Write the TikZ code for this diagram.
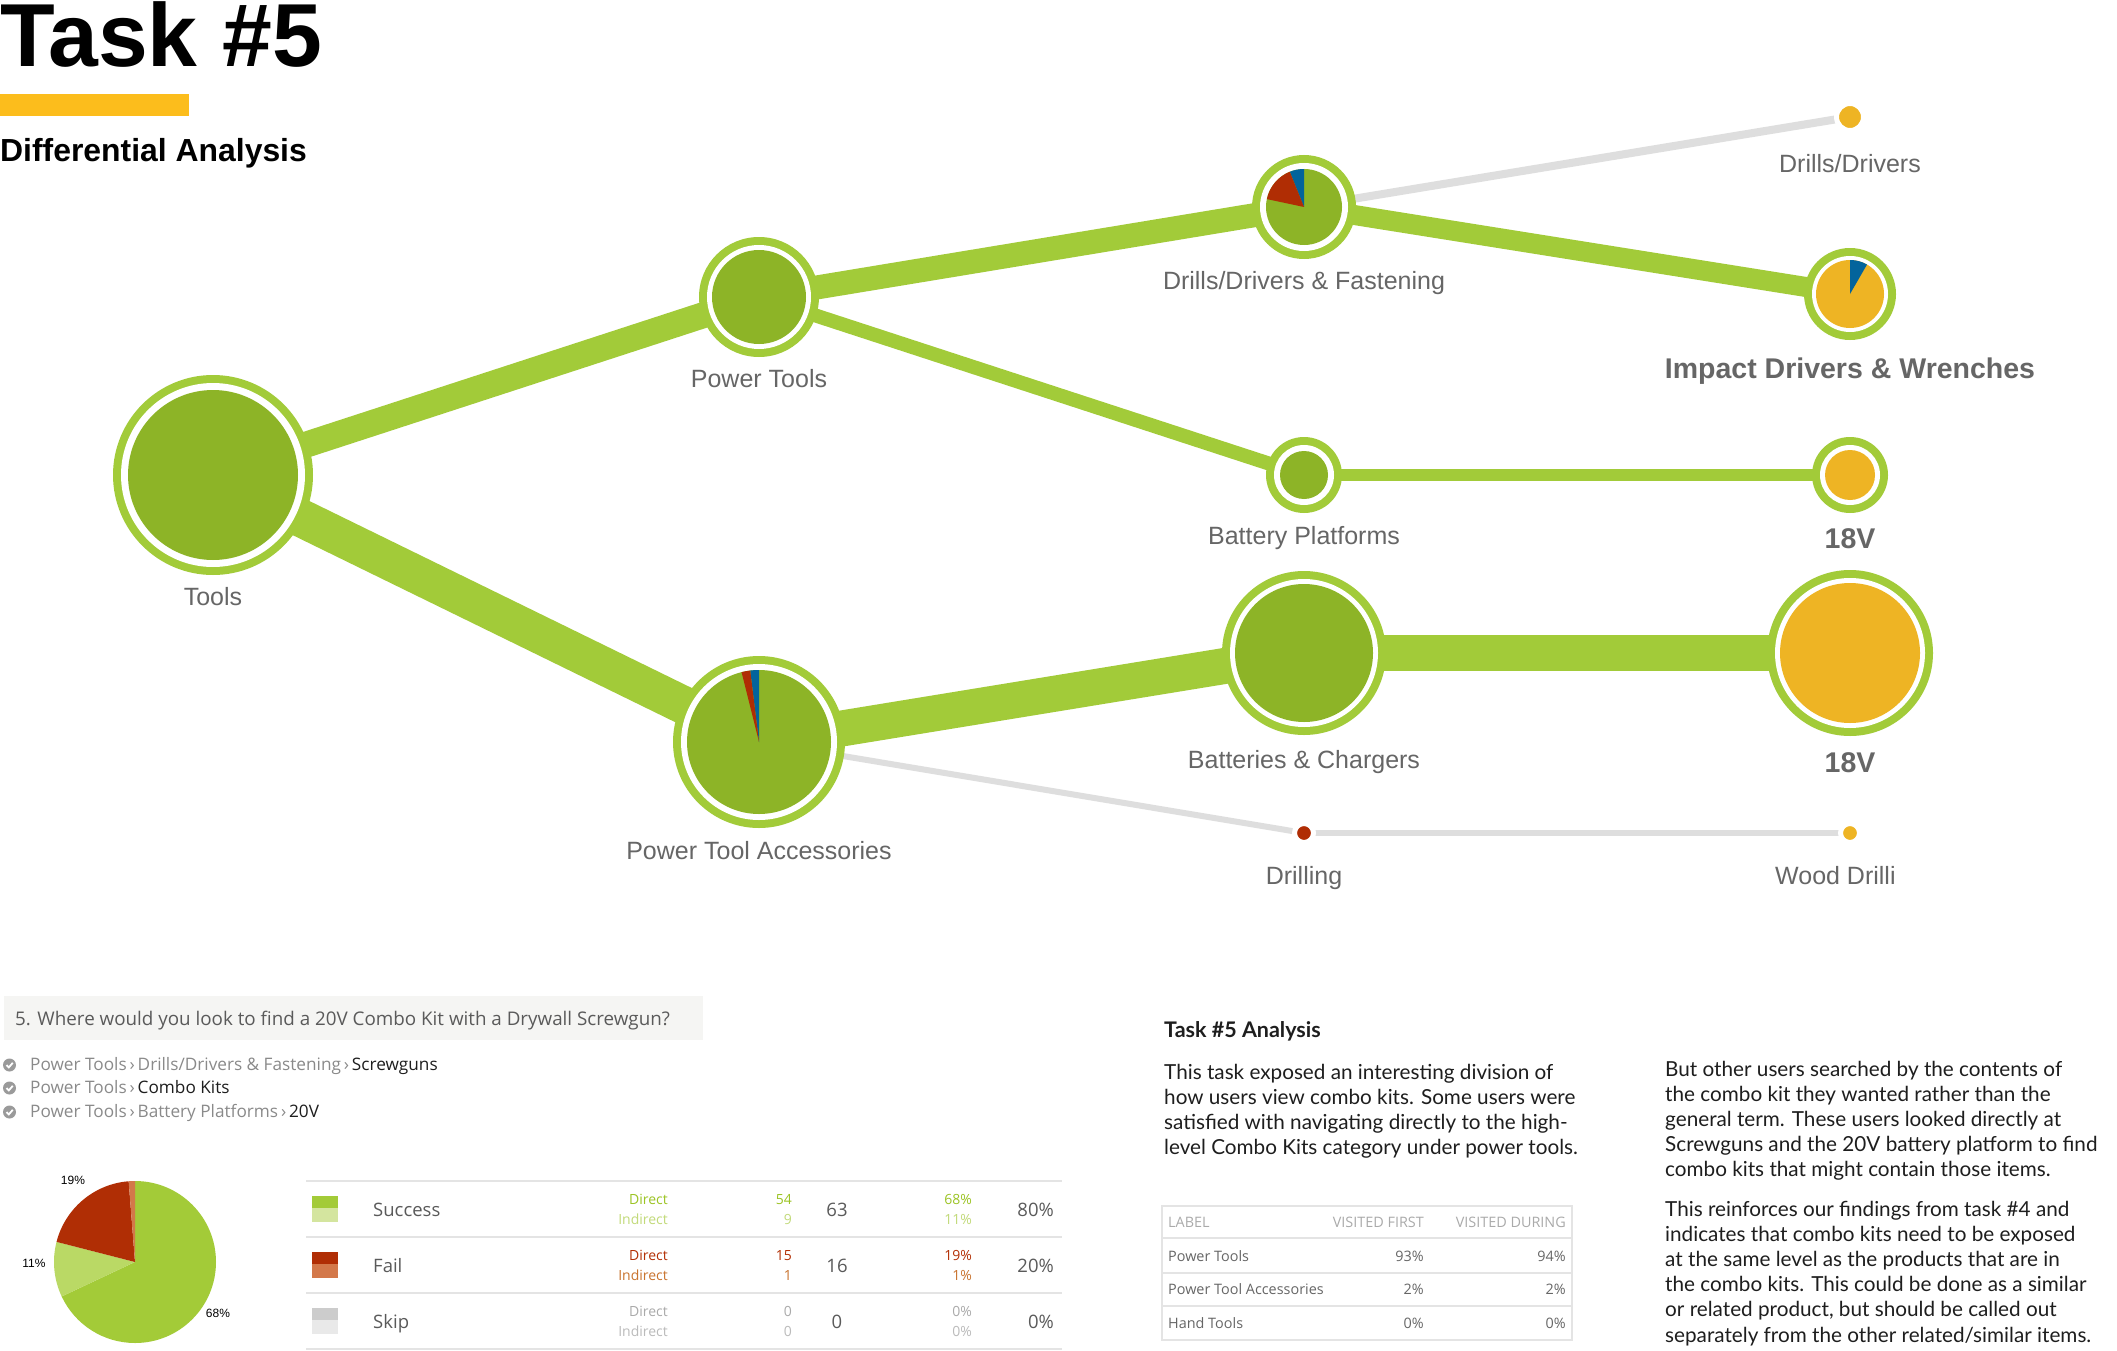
\documentclass[tikz,border=0pt]{standalone}
\usepackage{fontspec}
\setmainfont{Liberation Sans}
\newfontfamily\osans{Open Sans}
\newfontfamily\lato{Lato}
\usetikzlibrary{backgrounds}

\definecolor{ringgreen}{HTML}{A2CB39}
\definecolor{innergreen}{HTML}{8DB427}
\definecolor{pieorange}{HTML}{EEB424}
\definecolor{piered}{HTML}{B02D04}
\definecolor{pieblue}{HTML}{03649C}
\definecolor{edgegray}{HTML}{DEDEDE}
\definecolor{labelgray}{HTML}{666666}
\definecolor{barorange}{HTML}{FCBD1C}
\definecolor{qbox}{HTML}{F5F5F3}
\definecolor{qgray}{HTML}{5A5A5A}
\definecolor{trailgray}{HTML}{8A8A8A}
\definecolor{icongray}{HTML}{9A9A9A}
\definecolor{rulegray}{HTML}{E4E4E4}
\definecolor{okdark}{HTML}{A3CB38}
\definecolor{oklight}{HTML}{D4E59F}
\definecolor{okpie}{HTML}{BAD965}
\definecolor{oktext}{HTML}{9CC424}
\definecolor{okitext}{HTML}{C2DA7A}
\definecolor{faildark}{HTML}{B02E05}
\definecolor{faillight}{HTML}{D3784A}
\definecolor{failtext}{HTML}{B33005}
\definecolor{failitext}{HTML}{C9742F}
\definecolor{skipdark}{HTML}{CCCCCC}
\definecolor{skiplight}{HTML}{E9E9E9}
\definecolor{skiptext}{HTML}{AAAAAA}
\definecolor{skipitext}{HTML}{BBBBBB}
\definecolor{bodytext}{HTML}{1E1E1E}

\tikzset{
  hub/.style n args={3}{circle, inner sep=0pt, minimum size=2*#1pt, fill=ringgreen,
    path picture={
      \fill[white] (path picture bounding box.center) circle[radius=#1pt-8pt];
      \fill[#3] (path picture bounding box.center) circle[radius=#2pt];
    }},
  leaf/.style={circle, inner sep=0pt, draw=white, line width=5pt},
  band/.style={draw=ringgreen, line width=#1},
  thread/.style={draw=edgegray, line width=#1},
  lbl/.style={anchor=base, inner sep=0pt, text=labelgray, font=\fontsize{25}{29}\selectfont},
  biglbl/.style={lbl, font=\bfseries\fontsize{28.5}{32}\selectfont},
  body/.style={anchor=base west, inner sep=0pt, text=bodytext, font=\lato\fontsize{20.7}{25}\selectfont},
  cell/.style={inner sep=0pt, font=\osans\fontsize{14.4}{17}\selectfont},
  small/.style={anchor=base east, inner sep=0pt, font=\osans\fontsize{14}{16}\selectfont},
  big/.style={inner sep=0pt, text=qgray, font=\osans\fontsize{18.5}{21}\selectfont},
}

\begin{document}
\begin{tikzpicture}[x=1pt, y=1pt]
\useasboundingbox (0,0) rectangle (2117,-1351);

% header
\fill[barorange] (0,-94) rectangle (189,-116);
\node[anchor=base west, inner sep=0pt, font=\bfseries\fontsize{89.5}{92}\selectfont] (title) at (0,-67) {Task \#5};
\node[anchor=base west, inner sep=0pt, font=\bfseries\fontsize{31.9}{34}\selectfont] (subtitle) at (0,-162) {Differential Analysis};

% tree
\node[hub={100}{85}{innergreen}] (tools) at (213,-475) {};
\node[hub={60}{47}{innergreen}] (pt) at (759,-297) {};
\node[hub={52}{38}{innergreen}] (ddf) at (1304,-207) {};
\node[hub={38}{24}{innergreen}] (bp) at (1304,-475) {};
\node[hub={86}{72}{innergreen}] (pta) at (759,-742) {};
\node[hub={82}{69}{innergreen}] (bc) at (1304,-653) {};
\node[hub={46}{34}{pieorange}] (idw) at (1850,-294) {};
\node[hub={38}{25}{pieorange}] (v18a) at (1850,-475) {};
\node[hub={83}{70}{pieorange}] (v18b) at (1850,-653) {};
\node[leaf, fill=pieorange, minimum size=27pt] (dd) at (1850,-117) {};
\node[leaf, fill=piered, minimum size=19pt] (drl) at (1304,-833) {};
\node[leaf, fill=pieorange, minimum size=19pt] (wood) at (1850,-833) {};

\begin{scope}[on background layer]
  \fill[white] (0,0) rectangle (2117,-1351);
  \draw[band=26pt] (tools.center) -- (pt.center);
  \draw[band=38pt] (tools.center) -- (pta.center);
  \draw[band=24pt] (pt.center) -- (ddf.center);
  \draw[band=14pt] (pt.center) -- (bp.center);
  \draw[thread=8pt] (ddf.center) -- (dd.center);
  \draw[band=20pt] (ddf.center) -- (idw.center);
  \draw[band=12pt] (bp.center) -- (v18a.center);
  \draw[band=36pt] (pta.center) -- (bc.center);
  \draw[band=36pt] (bc.center) -- (v18b.center);
  \draw[thread=6pt] (pta.center) -- (drl.center);
  \draw[thread=6pt] (drl.center) -- (wood.center);
\end{scope}

% pie slices
\foreach \hubname/\rad/\from/\to/\col in {ddf/38/90/112/pieblue, ddf/38/112/168/piered,
    pta/72/90/97/pieblue, pta/72/97/104/piered, idw/34/60/90/pieblue}{
  \fill[\col] (\hubname.center) -- ++(\from:\rad) arc[start angle=\from, end angle=\to, radius=\rad] -- cycle;
}

\node[lbl] (tools-l) at (213,-605) {Tools};
\node[lbl] (pt-l) at (759,-387) {Power Tools};
\node[lbl] (ddf-l) at (1304,-289) {Drills/Drivers \& Fastening};
\node[lbl] (dd-l) at (1850,-173) {Drills/Drivers};
\node[biglbl] (idw-l) at (1850,-378) {Impact Drivers \& Wrenches};
\node[lbl] (bp-l) at (1304,-544) {Battery Platforms};
\node[biglbl] (v18a-l) at (1850,-548) {18V};
\node[lbl] (bc-l) at (1304,-768) {Batteries \& Chargers};
\node[biglbl] (v18b-l) at (1850,-772) {18V};
\node[lbl] (pta-l) at (759,-859) {Power Tool Accessories};
\node[lbl] (drl-l) at (1304,-884) {Drilling};
\node[lbl, anchor=base west] (wood-l) at (1775,-884) {Wood Drilli};

% question and trails
\fill[qbox] (4,-996) rectangle (703,-1040);
\node[anchor=base west, inner sep=0pt, text=qgray, font=\osans\fontsize{18.8}{22}\selectfont] (question) at (15,-1025)
  {5. Where would you look to find a 20V Combo Kit with a Drywall Screwgun?};
\foreach \yy/\trail/\goal [count=\i] in {1070/{Power Tools\,›\,Drills/Drivers \& Fastening\,›\,}/Screwguns,
    1093/{Power Tools\,›\,}/Combo Kits, 1117/{Power Tools\,›\,Battery Platforms\,›\,}/20V}{
  \fill[icongray] (9.5,-\yy+5) circle[radius=6.5];
  \draw[white, line width=1.8pt] (6.5,-\yy+5) -- (8.8,-\yy+2.6) -- (12.8,-\yy+7.2);
  \node[anchor=base west, inner sep=0pt, font=\osans\fontsize{17.2}{20}\selectfont] (trail\i) at (30,-\yy)
    {\textcolor{trailgray}{\trail}\textcolor{bodytext}{\goal}};
}

% result pie
\coordinate (res) at (135,-1262);
\fill[okdark] (res) -- ++(90:81) arc[start angle=90, end angle=-154.8, radius=81] -- cycle;
\fill[okpie] (res) -- ++(-154.8:81) arc[start angle=-154.8, end angle=-194.4, radius=81] -- cycle;
\fill[faildark] (res) -- ++(-194.4:81) arc[start angle=-194.4, end angle=-265.5, radius=81] -- cycle;
\fill[faillight] (res) -- ++(-265.5:81) arc[start angle=-265.5, end angle=-270, radius=81] -- cycle;
\node[inner sep=0pt, font=\fontsize{12}{14}\selectfont] (p19) at (73,-1180) {19\%};
\node[inner sep=0pt, font=\fontsize{12}{14}\selectfont] (p11) at (34,-1263) {11\%};
\node[inner sep=0pt, font=\fontsize{12}{14}\selectfont] (p68) at (218,-1313) {68\%};

% result table
\foreach \yy in {1181,1237,1293,1349}{
  \draw[rulegray, line width=2.5pt] (306,-\yy) -- (1062,-\yy);
}
\foreach \rname/\swA/\swB/\colA/\colB/\nA/\nB/\nT/\pA/\pB/\pT [count=\r from 0] in
  {Success/okdark/oklight/oktext/okitext/54/9/63/68\%/11\%/80\%,
   Fail/faildark/faillight/failtext/failitext/15/1/16/19\%/1\%/20\%,
   Skip/skipdark/skiplight/skiptext/skipitext/0/0/0/0\%/0\%/0\%}{
  \fill[\swA] (312,{-1196-56*\r}) rectangle (338,{-1208-56*\r});
  \fill[\swB] (312,{-1208-56*\r}) rectangle (338,{-1222-56*\r});
  \node[big, anchor=base west] (row\r) at (373,{-1216-56*\r}) {\rname};
  \node[small, text=\colA] (dir\r) at (668,{-1204-56*\r}) {Direct};
  \node[small, text=\colB] (ind\r) at (668,{-1224-56*\r}) {Indirect};
  \node[small, text=\colA] (ndir\r) at (792,{-1204-56*\r}) {\nA};
  \node[small, text=\colB] (nind\r) at (792,{-1224-56*\r}) {\nB};
  \node[big, anchor=base] (ntot\r) at (837,{-1216-56*\r}) {\nT};
  \node[small, text=\colA] (pdir\r) at (972,{-1204-56*\r}) {\pA};
  \node[small, text=\colB] (pind\r) at (972,{-1224-56*\r}) {\pB};
  \node[big, anchor=base east] (ptot\r) at (1054,{-1216-56*\r}) {\pT};
}

% analysis
\node[body, font=\lato\bfseries\fontsize{21.5}{25}\selectfont] (ahead) at (1164,-1037) {Task \#5 Analysis};
\foreach \txt [count=\i] in {This task exposed an interesting division of,
    how users view combo kits. Some users were,
    satisfied with navigating directly to the high-,
    level Combo Kits category under power tools.}{
  \node[body] (left\i) at (1164,{-1079-25*(\i-1)}) {\txt};
}
\foreach \txt [count=\i] in {But other users searched by the contents of,
    the combo kit they wanted rather than the,
    general term. These users looked directly at,
    Screwguns and the 20V battery platform to find,
    combo kits that might contain those items.}{
  \node[body] (right\i) at (1665,{-1076-25*(\i-1)}) {\txt};
}
\foreach \txt [count=\i] in {This reinforces our findings from task \#4 and,
    indicates that combo kits need to be exposed,
    at the same level as the products that are in,
    the combo kits. This could be done as a similar,
    {or related product, but should be called out},
    separately from the other related/similar items.}{
  \node[body] (more\i) at (1665,{-1216-25.2*(\i-1)}) {\txt};
}

% visit table
\draw[rulegray, line width=2pt] (1162,-1206) rectangle (1572,-1340);
\foreach \yy in {1238,1273,1306}{
  \draw[rulegray, line width=2pt] (1162,-\yy) -- (1572,-\yy);
}
\node[cell, anchor=base west, text=skiptext] (hlabel) at (1168,-1227) {LABEL};
\node[cell, anchor=base east, text=skiptext] (hfirst) at (1424,-1227) {VISITED FIRST};
\node[cell, anchor=base east, text=skiptext] (hduring) at (1566,-1227) {VISITED DURING};
\foreach \lab/\first/\during [count=\i] in {Power Tools/93\%/94\%, Power Tool Accessories/2\%/2\%, Hand Tools/0\%/0\%}{
  \node[cell, anchor=base west, text=labelgray] (vlab\i) at (1168,{-1261-33.5*(\i-1)}) {\lab};
  \node[cell, anchor=base east, text=labelgray] (vfirst\i) at (1424,{-1261-33.5*(\i-1)}) {\first};
  \node[cell, anchor=base east, text=labelgray] (vduring\i) at (1566,{-1261-33.5*(\i-1)}) {\during};
}
\end{tikzpicture}
\end{document}
